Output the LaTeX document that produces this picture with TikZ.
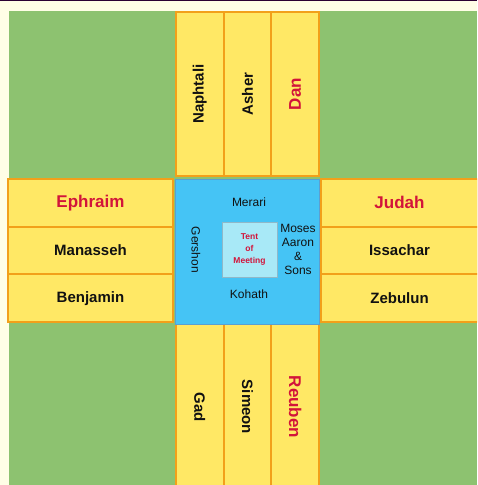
\documentclass[tikz,border=0pt]{standalone}
\usepackage{fontspec}
\setmainfont{Liberation Sans}
\definecolor{paper}{HTML}{FFFEE6}
\definecolor{topline}{HTML}{2B0033}
\definecolor{field}{HTML}{8DC270}
\definecolor{campfill}{HTML}{FFE865}
\definecolor{campedge}{HTML}{F2A01A}
\definecolor{courtfill}{HTML}{45C4F5}
\definecolor{courtedge}{HTML}{5A9FD2}
\definecolor{tentfill}{HTML}{A8E9F7}
\definecolor{tentedge}{HTML}{8FB8C8}
\definecolor{leadred}{HTML}{D2143A}
\definecolor{tribeink}{HTML}{111111}

\begin{document}
\begin{tikzpicture}[
    x=1pt, y=1pt,
    tribe/.style={fill=campfill, inner sep=0pt, text=tribeink,
      font=\bfseries\fontsize{15}{18}\selectfont},
    leader/.style={tribe, text=leadred, font=\bfseries\fontsize{17}{20}\selectfont},
    upright/.style={rotate=90, minimum width=164pt, minimum height=47.67pt},
    downright/.style={rotate=-90, minimum width=166pt, minimum height=47.67pt},
    side/.style={minimum width=165pt, minimum height=47.67pt},
    eastside/.style={minimum width=157pt, minimum height=47.67pt},
    levite/.style={inner sep=0pt, text=tribeink, font=\fontsize{12}{14}\selectfont},
  ]
    \clip (0,0) rectangle (477,485);
    \useasboundingbox (0,0) rectangle (477,485);
    % Page and field
    \fill[paper] (0,0) rectangle (477,485);
    \fill[topline] (0,483.5) rectangle (477,485);
    \fill[field] (9,0) rectangle (477,474);

    % North: Dan
    \node[tribe, upright] (naphtali) at (199.83,391) {Naphtali};
    \node[tribe, upright] (asher) at (247.5,391) {Asher};
    \node[leader, upright] (dan) at (295.17,391) {Dan};

    % South: Reuben
    \node[tribe, downright] (gad) at (199.83,78) {Gad};
    \node[tribe, downright] (simeon) at (247.5,78) {Simeon};
    \node[leader, downright] (reuben) at (295.17,78) {Reuben};

    % West: Ephraim
    \node[leader, side] (ephraim) at (90.5,282.2) {Ephraim};
    \node[tribe, side] (manasseh) at (90.5,234.5) {Manasseh};
    \node[tribe, side] (benjamin) at (90.5,186.8) {Benjamin};

    % East: Judah
    \node[leader, eastside] (judah) at (399.5,282.2) {Judah};
    \node[tribe, eastside] (issachar) at (399.5,234.5) {Issachar};
    \node[tribe, eastside] (zebulun) at (399.5,186.8) {Zebulun};

    % camp borders on top of the fills
    \foreach \t in {naphtali,asher,dan,gad,simeon,reuben,ephraim,manasseh,benjamin,judah,issachar,zebulun}
      \draw[campedge, line width=1.6pt] (\t.south west) rectangle (\t.north east);

    % Levites round the tent
    \node[draw=courtedge, fill=courtfill, line width=0.8pt, minimum width=144pt, minimum height=145pt]
      (court) at (247,233.5) {};
    \node[draw=tentedge, fill=tentfill, line width=0.6pt, minimum width=55pt, minimum height=55pt,
      inner sep=0pt, align=center, text=leadred, font=\bfseries\fontsize{8.5}{12}\selectfont]
      (tent) at (249.5,235.5) {Tent\\of\\Meeting};
    \node[levite] (merari) at (249,283) {Merari};
    \node[levite] (kohath) at (249,191) {Kohath};
    \node[levite, rotate=-90] (gershon) at (196,235) {Gershon};
    \node[levite, align=center] (moses) at (298,236) {Moses\\Aaron\\\&\\Sons};
\end{tikzpicture}
\end{document}
